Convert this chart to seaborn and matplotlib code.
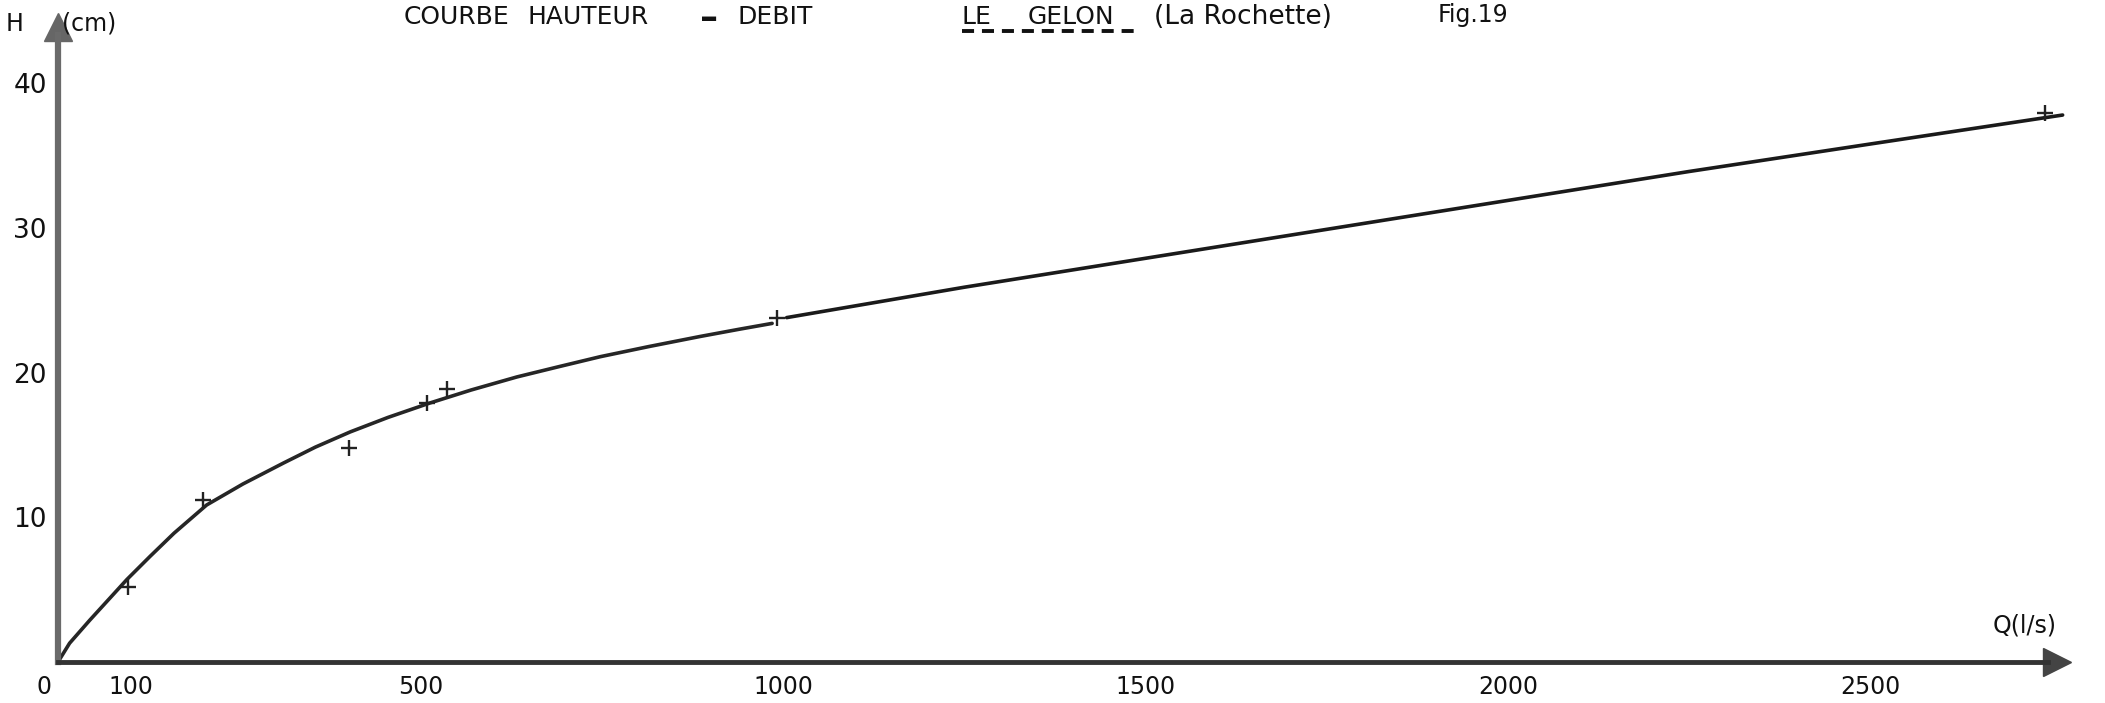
import matplotlib
matplotlib.use("Agg")
from matplotlib import pyplot as plt
from matplotlib.lines import Line2D
import seaborn as sns
import pandas as pd

# rating curve (Q in l/s, H in cm)
curve_q_a = [0, 16, 44, 95, 127, 160, 205, 255, 311, 355, 403, 455, 513, 570,
             633, 690, 748, 815, 886, 940, 985]
curve_h_a = [0, 1.3, 2.9, 5.7, 7.3, 8.9, 10.85, 12.3, 13.75, 14.85, 15.9, 16.9,
             17.9, 18.8, 19.7, 20.4, 21.1, 21.8, 22.5, 23.0, 23.4]
curve_q_b = [1005, 1250, 1500, 1750, 2000, 2250, 2500, 2765]
curve_h_b = [23.8, 25.9, 27.9, 29.9, 31.9, 33.9, 35.8, 37.8]

# measured gaugings
obs_q = [96, 200, 402, 509, 536, 992, 2741]
obs_h = [5.2, 11.2, 14.8, 17.9, 18.9, 23.8, 37.95]

x_ticks = [100, 500, 1000, 1500, 2000, 2500]
y_ticks = [10, 20, 30, 40]

sns.set_style("white")
plt.rcParams['font.family'] = ['DejaVu Sans']

W, H = 2105, 703
fig = plt.figure(figsize=(W / 100, H / 100), dpi=100)
ax = fig.add_axes([0, 0, 1, 1])

# pixel mapping of the original drawing: origin at (58, 662), 0.725 px per l/s, 14.47 px per cm
ax.set_xlim(-58 / 0.725, (W - 58) / 0.725)
ax.set_ylim((662 - H) / 14.47, 662 / 14.47)

df_a = pd.DataFrame({"Q": curve_q_a, "H": curve_h_a})
df_b = pd.DataFrame({"Q": curve_q_b, "H": curve_h_b})
df_obs = pd.DataFrame({"Q": obs_q, "H": obs_h})

sns.lineplot(data=df_a, x="Q", y="H", ax=ax, color="#262626", lw=2.6,
             sort=False, estimator=None)
sns.lineplot(data=df_b, x="Q", y="H", ax=ax, color="#1a1a1a", lw=2.6,
             sort=False, estimator=None)
sns.scatterplot(data=df_obs, x="Q", y="H", ax=ax, marker="+", s=140,
                color="#222222", linewidth=1.7, zorder=5)

# axes drawn as arrows through the origin
for side in ["top", "right"]:
    ax.spines[side].set_visible(False)
ax.spines["left"].set_position(("data", 0))
ax.spines["bottom"].set_position(("data", 0))
ax.spines["left"].set_bounds(0, 43.3)
ax.spines["bottom"].set_bounds(0, 2745)
ax.spines["left"].set_color("#6a6a6a")
ax.spines["left"].set_linewidth(4.5)
ax.spines["bottom"].set_color("#333333")
ax.spines["bottom"].set_linewidth(3.5)
ax.plot([2757], [0], marker=">", ms=20, color="#444444", clip_on=False)
ax.plot([0], [43.9], marker="^", ms=20, color="#666666", clip_on=False)

ax.set_xticks(x_ticks)
ax.set_xticklabels([str(v) for v in x_ticks])
ax.set_yticks(y_ticks)
ax.set_yticklabels([str(v) for v in y_ticks])
ax.tick_params(axis="x", direction="inout", length=6, width=1.2, colors="#555555",
               labelsize=17, labelcolor="#111111", pad=6)
ax.tick_params(axis="y", direction="out", length=5, width=1.2, colors="#555555",
               labelsize=19, labelcolor="#111111", pad=3)
ax.set_xlabel("")
ax.set_ylabel("")

ax.text(-19, -0.9, "0", fontsize=17, color="#111111", ha="center", va="top")

# labels and heading
def ptext(x, y, s, **kw):
    fig.text(x / W, 1 - y / H, s, color="#111111", **kw)

ptext(6, 24, "H", fontsize=17, ha="left", va="center")
ptext(62, 24, "(cm)", fontsize=17, ha="left", va="center")
ptext(1993, 626, "Q(l/s)", fontsize=17, ha="left", va="center")

ptext(404, 17, "COURBE", fontsize=18, ha="left", va="center")
ptext(527, 17, "HAUTEUR", fontsize=18, ha="left", va="center")
ptext(700, 19, "\u2013", fontsize=26, ha="left", va="center", fontweight="bold")
ptext(737, 17, "DEBIT", fontsize=18, ha="left", va="center")
ptext(961, 17, "LE", fontsize=18, ha="left", va="center")
ptext(1028, 17, "GELON", fontsize=18, ha="left", va="center")
ptext(1154, 17, "(La Rochette)", fontsize=19, ha="left", va="center")
ptext(1438, 15, "Fig.19", fontsize=17, ha="left", va="center")
fig.add_artist(Line2D([962 / W, 1134 / W], [1 - 31 / H, 1 - 31 / H],
                      transform=fig.transFigure, color="#111111", lw=2.8,
                      dashes=(3.1, 2.03)))

fig.savefig("out.png", dpi=100, facecolor="white")
